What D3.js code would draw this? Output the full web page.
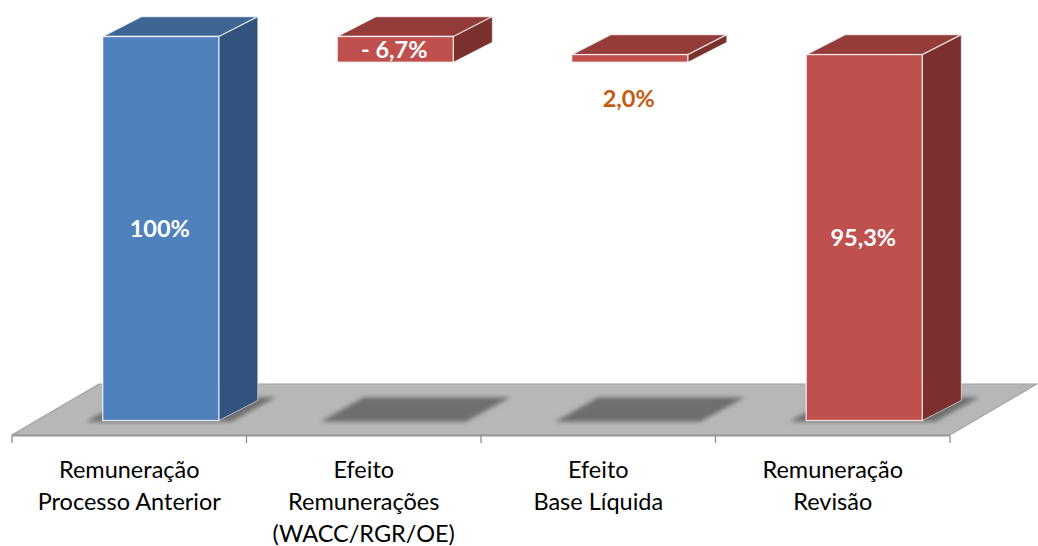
<!DOCTYPE html>
<html>
<head>
<meta charset="utf-8">
<script src="https://cdn.jsdelivr.net/npm/d3@7"></script>
<style>
  html, body { margin: 0; padding: 0; background: #fff; }
  svg { display: block; }
  text { font-family: Lato, "Open Sans", sans-serif; }
</style>
</head>
<body>
<svg id="chart" width="1038" height="546"></svg>
<script>
// Waterfall of remuneration: starting level, two effects, resulting level
const categories = [
  ["Remuneração", "Processo Anterior"],
  ["Efeito", "Remunerações", "(WACC/RGR/OE)"],
  ["Efeito", "Base Líquida"],
  ["Remuneração", "Revisão"]
];
const kinds = ["total", "delta", "delta", "total"];
const values = [100, -6.7, 2.0, 95.3];
const valueLabels = ["100%", "- 6,7%", "2,0%", "95,3%"];

const svg = d3.select("#chart");

// front edge of the floor and the category bands along it
const x = d3.scaleBand().domain(d3.range(categories.length)).range([12, 950]).padding(0);
const y = d3.scaleLinear().domain([0, 100]).range([420.5, 36.5]);

const floorFront = 435, floorDX = 87, floorDY = -51;
const barShift = 31.5;          // front face sits inside the floor depth
const barW = x.bandwidth() * 0.495;
const depthDX = 39, depthDY = -20;

// running totals -> floating segments
let run = 0;
const bars = values.map((v, i) => {
  let lo, hi;
  if (kinds[i] === "total") { lo = 0; hi = v; run = v; }
  else { const s = run; run = run + v; lo = Math.min(s, run); hi = Math.max(s, run); }
  const cx = x(i) + x.bandwidth() / 2 + barShift;
  return { i, v, lo, hi, x0: cx - barW / 2, x1: cx + barW / 2, cx, label: valueLabels[i] };
});

const palette = {
  blue: { front: "#4F81BD", top: "#3E6694", side: "#32537D" },
  red:  { front: "#C0504D", top: "#943C3A", side: "#7B302E" }
};
const colorOf = i => (i === 0 ? palette.blue : palette.red);

const defs = svg.append("defs");
defs.append("filter").attr("id", "soft").attr("x", "-20%").attr("y", "-50%").attr("width", "140%").attr("height", "200%")
  .append("feGaussianBlur").attr("stdDeviation", 2.2);

// floor
const fl = [[12, floorFront], [950, floorFront], [950 + floorDX, floorFront + floorDY], [12 + floorDX, floorFront + floorDY]];
svg.append("polygon").attr("points", fl.map(p => p.join(",")).join(" "))
  .attr("fill", "#B7B7B7").attr("stroke", "#A3A3A3").attr("stroke-width", 1.2);
svg.append("line").attr("x1", 12).attr("x2", 950).attr("y1", floorFront + 0.5).attr("y2", floorFront + 0.5)
  .attr("stroke", "#979797").attr("stroke-width", 2);

// tick marks under the floor
svg.append("g").selectAll("line")
  .data(d3.range(categories.length + 1))
  .join("line")
  .attr("x1", i => 12 + i * x.bandwidth()).attr("x2", i => 12 + i * x.bandwidth())
  .attr("y1", floorFront + 1).attr("y2", floorFront + 8)
  .attr("stroke", "#8C8C8C").attr("stroke-width", 1.3);

// footprint shadows on the floor
svg.append("g").attr("filter", "url(#soft)").selectAll("polygon")
  .data(bars).join("polygon")
  .attr("points", d => [
    [d.x0 - 16.5, 421.7], [d.x1 + 12.5, 421.7],
    [d.x1 + 57, 397.3], [d.x0 + 26.5, 397.3]
  ].map(p => p.join(",")).join(" "))
  .attr("fill", "#6E6E6E");

// bars: side, top and front faces
const g = svg.append("g");
bars.forEach(d => {
  const c = colorOf(d.i);
  const yt = y(d.hi), yb = y(d.lo);
  const side = [[d.x1, yt], [d.x1 + depthDX, yt + depthDY], [d.x1 + depthDX, yb + depthDY], [d.x1, yb]];
  const top = [[d.x0, yt], [d.x1, yt], [d.x1 + depthDX, yt + depthDY], [d.x0 + depthDX, yt + depthDY]];
  const pts = a => a.map(p => p.join(",")).join(" ");
  g.append("polygon").attr("points", pts(side)).attr("fill", c.side)
    .attr("stroke", "#ffffff").attr("stroke-opacity", 0.55).attr("stroke-width", 1).attr("stroke-linejoin", "round");
  g.append("polygon").attr("points", pts(top)).attr("fill", c.top)
    .attr("stroke", "#ffffff").attr("stroke-opacity", 0.75).attr("stroke-width", 1.3).attr("stroke-linejoin", "round");
  g.append("rect").attr("x", d.x0).attr("y", yt).attr("width", d.x1 - d.x0).attr("height", yb - yt)
    .attr("fill", c.front).attr("stroke", "#ffffff").attr("stroke-opacity", 0.8).attr("stroke-width", 1.3);
});

// value labels: centred on the front face, or below it when the face is thin
svg.append("g").selectAll("text")
  .data(bars).join("text")
  .attr("x", d => d.cx - 1)
  .attr("y", d => {
    const yt = y(d.hi), yb = y(d.lo);
    return (yb - yt) > 20 ? (yt + yb) / 2 + 8.5 : yb + 44.5;
  })
  .attr("text-anchor", "middle")
  .attr("font-size", 23.5).attr("font-weight", 700)
  .attr("fill", d => ((y(d.lo) - y(d.hi)) > 20 ? "#FFFFFF" : "#C55A11"))
  .text(d => d.label);

// category labels
const cl = svg.append("g").selectAll("text")
  .data(categories).join("text")
  .attr("text-anchor", "middle")
  .attr("font-size", 23.5).attr("fill", "#000")
  .attr("transform", (d, i) => `translate(${x(i) + x.bandwidth() / 2},478)`);
cl.selectAll("tspan").data(d => d).join("tspan")
  .attr("x", 0).attr("y", (d, k) => k * 32)
  .text(d => d);
</script>
</body>
</html>
